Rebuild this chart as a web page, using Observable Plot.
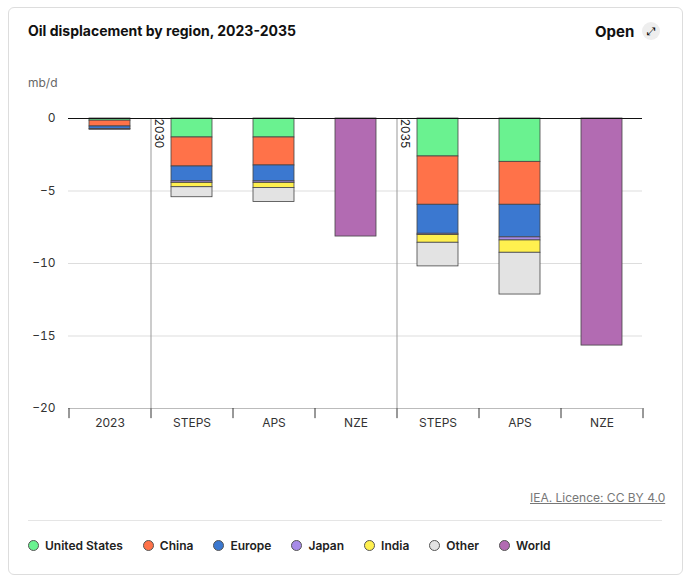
<!DOCTYPE html>
<html><head><meta charset="utf-8">
<script src="https://cdn.jsdelivr.net/npm/d3@7"></script>
<script src="https://cdn.jsdelivr.net/npm/@observablehq/plot@0.6"></script>
<style>
body{margin:0;font-family:Inter,"Noto Sans",sans-serif;background:#fff;}
#card{position:absolute;left:8px;top:7px;width:673px;height:566px;border:1px solid #ddd;border-radius:6px;}
#title{position:absolute;left:28px;top:22px;font-size:14px;font-weight:700;color:#111;}
#open{position:absolute;left:595px;top:22px;font-size:15px;font-weight:700;color:#111;}
#openic{position:absolute;left:642px;top:22px;width:18px;height:18px;border-radius:50%;background:#eee;font-size:11px;text-align:center;line-height:18px;}
#unit{position:absolute;left:28px;top:75px;font-size:12px;color:#666;}
#chart{position:absolute;left:0;top:100px;}
#lic{position:absolute;left:530px;top:490px;font-size:12px;color:#777;text-decoration:underline;}
#sep{position:absolute;left:28px;top:520px;width:634px;border-top:1px solid #e5e5e5;}
#legend{position:absolute;left:28px;top:538px;font-size:12px;font-weight:600;color:#222;display:flex;gap:0;}
.li{display:flex;align-items:center;margin-right:20px;}
.sw{width:11px;height:11px;border-radius:50%;margin-right:6px;border:1px solid #555;box-sizing:border-box;}
</style></head><body>
<div id="card"></div>
<div id="title">Oil displacement by region, 2023-2035</div>
<div id="open">Open</div><div id="openic">⤢</div>
<div id="unit">mb/d</div>
<div id="chart"></div>
<div id="lic">IEA. Licence: CC BY 4.0</div>
<div id="sep"></div>
<div id="legend"></div>
<script>
const keys = ["2023","2030 STEPS","2030 APS","2030 NZE","2035 STEPS","2035 APS","2035 NZE"];
const labels = ["2023","STEPS","APS","NZE","STEPS","APS","NZE"];
const series = ["United States","China","Europe","Japan","India","Other","World"];
const colors = ["#6af290","#ff7249","#3b78d0","#a78be8","#fff04f","#e3e3e3","#b26bb2"];
const usV     = [-0.15,-1.31,-1.31,0,-2.62,-2.99,0];
const chinaV  = [-0.40,-2.00,-1.93,0,-3.33,-2.96,0];
const europeV = [-0.18,-1.03,-1.10,0,-2.00,-2.25,0];
const japanV  = [-0.05,-0.10,-0.10,0,-0.09,-0.21,0];
const indiaV  = [0,-0.30,-0.35,0,-0.53,-0.85,0];
const otherV  = [0,-0.69,-0.97,0,-1.63,-2.88,0];
const worldV  = [0,0,0,-8.14,0,0,-15.66];
const yTicks = [0,-5,-10,-15,-20];
const dividers = ["2030 STEPS","2035 STEPS"];
const dividerLabels = ["2030","2035"];

const allV = [usV,chinaV,europeV,japanV,indiaV,otherV,worldV];
const data = [];
series.forEach((s,si)=>keys.forEach((k,ki)=>{ if(allV[si][ki]!==0) data.push({cat:k,series:s,value:allV[si][ki]}); }));

const step = (690-68-48)/keys.length;
const chart = Plot.plot({
  width:690,height:340,marginTop:18,marginBottom:32,marginLeft:68,marginRight:48,
  style:{fontFamily:"Inter, 'Noto Sans', sans-serif",fontSize:"12px",color:"#333"},
  x:{domain:keys,paddingInner:0.5,paddingOuter:0.25,tickFormat:(d)=>labels[keys.indexOf(d)],tickSize:0,tickPadding:10,label:null},
  y:{domain:[-20,0],ticks:yTicks,tickSize:0,tickPadding:13,label:null},
  color:{domain:series,range:colors},
  marks:[
    Plot.gridY(yTicks,{stroke:"#ddd",strokeOpacity:1}),
    Plot.ruleY([-20],{stroke:"#bbb"}),
    Plot.ruleX(keys,{x:d=>d,y1:-20,y2:-20.7,dx:-step/2,stroke:"#333"}),
    Plot.ruleX([keys[keys.length-1]],{x:d=>d,y1:-20,y2:-20.7,dx:step/2,stroke:"#333"}),
    Plot.ruleX(dividers,{x:d=>d,y1:0,y2:-20.5,dx:-step/2,stroke:"#999"}),
    Plot.text(dividers,{x:d=>d,y:0,text:(d,i)=>dividerLabels[i],dx:-step/2+8,dy:15,rotate:90,fill:"#222",fontSize:12}),
    Plot.barY(data,Plot.stackY({x:"cat",y:"value",fill:"series",order:series,stroke:"#444",strokeWidth:0.8})),
    Plot.ruleY([0],{stroke:"#111",strokeWidth:1.2})
  ]
});
document.getElementById("chart").append(chart);
const lg=document.getElementById("legend");
series.forEach((s,i)=>{const d=document.createElement("div");d.className="li";d.innerHTML=`<span class="sw" style="background:${colors[i]}"></span>${s}`;lg.append(d);});
</script></body></html>
